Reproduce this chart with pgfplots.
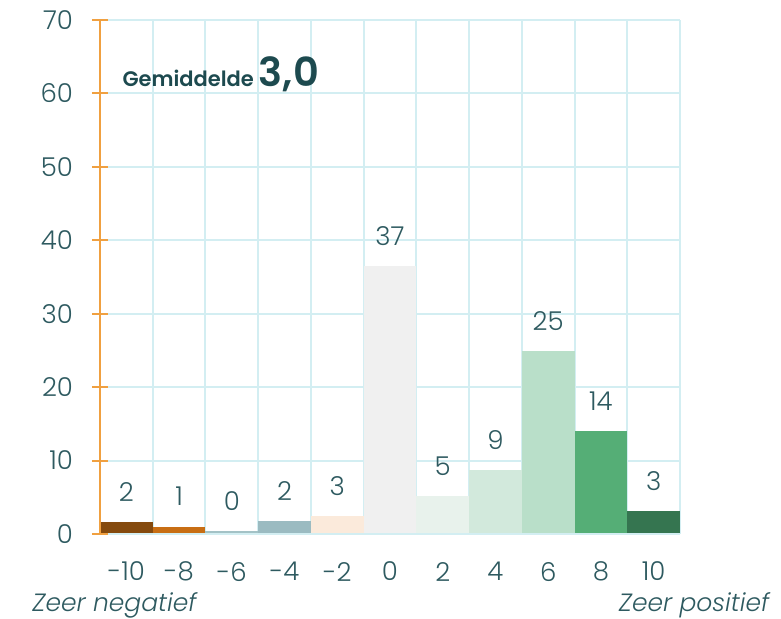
\documentclass[border=0pt]{standalone}
\usepackage{fontspec}
\setmainfont{Poppins}[UprightFont=* Light, ItalicFont=* Light Italic, BoldFont=* SemiBold]
\usepackage{pgfplots}
\pgfplotsset{compat=1.18}

\definecolor{txt}{HTML}{1D4A4F}
\definecolor{tick}{HTML}{2E5A60}
\definecolor{gridc}{HTML}{D3EEF2}
\definecolor{axo}{HTML}{F0A040}
\definecolor{cA}{HTML}{854A0E}
\definecolor{cB}{HTML}{C86E14}
\definecolor{cC}{HTML}{A3C2C6}
\definecolor{cD}{HTML}{9BBBC1}
\definecolor{cE}{HTML}{FBEADB}
\definecolor{cF}{HTML}{F0F0F0}
\definecolor{cG}{HTML}{E8F2EC}
\definecolor{cH}{HTML}{D2E9DC}
\definecolor{cI}{HTML}{B9DFC9}
\definecolor{cJ}{HTML}{55AE76}
\definecolor{cK}{HTML}{357550}

\begin{document}
\begin{tikzpicture}
\useasboundingbox (-50pt,-42.5pt) rectangle (340.5pt,267pt);
\begin{axis}[
  at={(0,0)}, anchor=south west,
  width=290pt, height=257pt, scale only axis,
  xmin=-0.5, xmax=10.5, ymin=0, ymax=70,
  ybar, bar width=1, bar shift=0pt,
  xtick={0,...,10},
  xticklabels={-10,-8,-6,-4,-2,0,2,4,6,8,10},
  minor xtick={-0.5,0.5,...,10.5},
  ytick={0,10,...,70},
  /pgf/number format/assume math mode=true,
  xmajorgrids=false, xminorgrids=true, ymajorgrids=true,
  grid style={gridc, line width=1pt},
  minor grid style={gridc, line width=1pt},
  axis line style={draw=none},
  major tick length=0pt, minor tick length=0pt,
  ticklabel style={font=\fontsize{13}{15}\selectfont, text=tick},
  yticklabel style={xshift=-10pt},
  xticklabel style={yshift=-10.5pt},
  clip=false,
  point meta=explicit symbolic,
  nodes near coords,
  every node near coord/.append style={anchor=center, yshift=15pt, font=\fontsize{13}{15}\selectfont, text=tick},
]
\addplot[fill=cA, draw=none] coordinates {(0,1.6) [2]};
\addplot[fill=cB, draw=none] coordinates {(1,1.0) [1]};
\addplot[fill=cC, draw=none] coordinates {(2,0.4) [0]};
\addplot[fill=cD, draw=none] coordinates {(3,1.8) [2]};
\addplot[fill=cE, draw=none] coordinates {(4,2.5) [3]};
\addplot[fill=cF, draw=none] coordinates {(5,36.5) [37]};
\addplot[fill=cG, draw=none] coordinates {(6,5.2) [5]};
\addplot[fill=cH, draw=none] coordinates {(7,8.7) [9]};
\addplot[fill=cI, draw=none] coordinates {(8,24.9) [25]};
\addplot[fill=cJ, draw=none] coordinates {(9,14.0) [14]};
\addplot[fill=cK, draw=none] coordinates {(10,3.1) [3]};

\draw[gridc, line width=1pt] (axis cs:-0.5,0) -- (axis cs:10.5,0);
\draw[axo, line width=1pt] (axis cs:-0.5,0) -- (axis cs:-0.5,70);
\pgfplotsinvokeforeach{0,10,20,30,40,50,60,70}{
  \draw[axo, line width=1pt] ([xshift=-4pt]axis cs:-0.5,#1) -- ([xshift=4pt]axis cs:-0.5,#1);
}
\node[anchor=base west, inner sep=0pt, text=txt] at (axis cs:-0.08,61)
  {\fontsize{10.5}{12}\selectfont\bfseries Gemiddelde \fontsize{20}{24}\selectfont 3,0};
\node[anchor=west, inner sep=0pt, text=tick, font=\fontsize{12.5}{14}\selectfont\itshape] at ([yshift=-35.5pt]axis cs:-1.79,0) {Zeer negatief};
\node[anchor=east, inner sep=0pt, text=tick, font=\fontsize{12.5}{14}\selectfont\itshape] at ([yshift=-35.5pt]axis cs:12.2,0) {Zeer positief};
\end{axis}
\end{tikzpicture}
\end{document}
